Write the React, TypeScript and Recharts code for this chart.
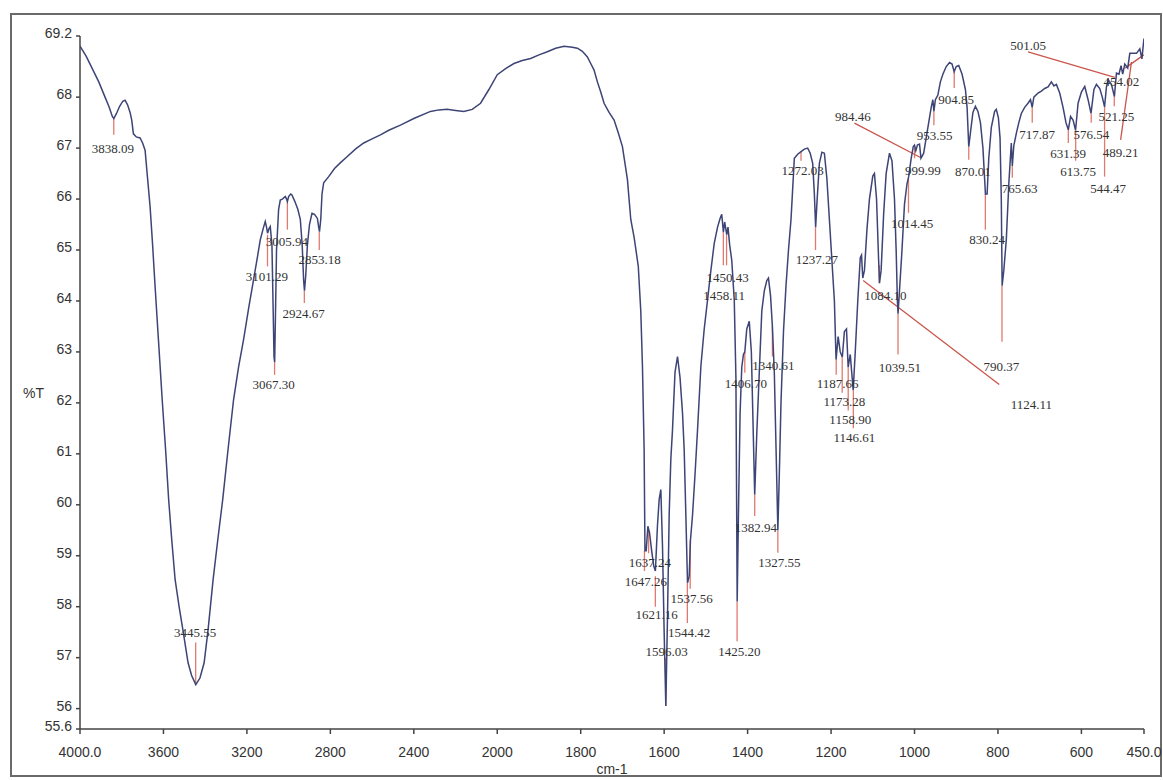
import React from 'react';
import { LineChart, Line, XAxis, YAxis, ReferenceLine, ReferenceDot } from 'recharts';

// FTIR spectrum (cm-1, %T)
const wavenumbers = [
  4000, 3970, 3940, 3910, 3880, 3860, 3845, 3838, 3825, 3810, 3795, 3784, 3772, 3760, 3752, 3744, 3730, 3712,
  3700, 3688, 3676, 3664, 3652, 3640, 3624, 3606, 3590, 3575, 3560, 3544, 3525, 3507, 3482, 3465, 3445, 3425,
  3405, 3386, 3362, 3340, 3316, 3290, 3264, 3240, 3216, 3190, 3168, 3150, 3136, 3120, 3112, 3106, 3101, 3094,
  3088, 3080, 3074, 3070, 3067, 3064, 3058, 3048, 3040, 3030, 3016, 3010, 3006, 3000, 2990, 2984, 2970, 2956,
  2944, 2935, 2928, 2924, 2918, 2910, 2900, 2888, 2876, 2862, 2856, 2852, 2846, 2840, 2832, 2808, 2780, 2750,
  2720, 2680, 2640, 2600, 2560, 2520, 2464, 2400, 2320, 2280, 2240, 2200, 2160, 2120, 2080, 2040, 2000, 1980,
  1960, 1940, 1920, 1900, 1880, 1860, 1840, 1820, 1808, 1796, 1784, 1776, 1768, 1760, 1752, 1744, 1732, 1720,
  1710, 1700, 1688, 1680, 1672, 1662, 1656, 1652, 1648, 1646, 1643, 1639, 1635, 1630, 1625, 1621, 1616, 1612,
  1608, 1604, 1600, 1596, 1592, 1588, 1584, 1580, 1574, 1568, 1562, 1556, 1552, 1548, 1544, 1540, 1537, 1532,
  1526, 1520, 1512, 1504, 1496, 1488, 1480, 1472, 1466, 1462, 1458, 1455, 1450, 1447, 1443, 1438, 1432, 1428,
  1425, 1422, 1418, 1414, 1410, 1406.7, 1402, 1396, 1391, 1387, 1383, 1378, 1372, 1366, 1360, 1354, 1350, 1345,
  1340.6, 1336, 1331, 1327.5, 1324, 1320, 1314, 1308, 1302, 1296, 1292, 1288, 1280, 1272, 1264, 1256, 1250, 1244,
  1240, 1237, 1234, 1228, 1222, 1216, 1210, 1204, 1198, 1192, 1188, 1183, 1178, 1173, 1168, 1163, 1159, 1154,
  1147, 1142, 1136, 1130, 1127, 1124, 1120, 1114, 1108, 1100, 1096, 1091, 1086, 1084, 1080, 1074, 1068, 1060,
  1054, 1048, 1044, 1041, 1039.5, 1036, 1030, 1024, 1018, 1014, 1008, 1003, 1000, 997, 993, 988, 984.5, 978,
  972, 966, 960, 956, 953.5, 950, 944, 938, 932, 924, 916, 910, 905, 900, 894, 886, 878, 874, 870, 866, 860, 854,
  848, 842, 836, 830, 826, 822, 816, 808, 804, 799, 795, 792, 790, 786, 780, 774, 768, 765.6, 762, 756, 750, 744,
  736, 728, 722, 718, 714, 704, 696, 688, 680, 672, 666, 660, 652, 644, 637, 631.4, 626, 620, 614, 608, 600, 592,
  584, 577, 570, 564, 556, 550, 544.5, 540, 536, 528, 521, 516, 510, 505, 501, 496, 489, 484, 468, 460, 455, 452,
  450,
];

const transmittance = [
  69.0, 68.8, 68.55, 68.3, 68.0, 67.8, 67.62, 67.58, 67.68, 67.82, 67.92, 67.94, 67.85, 67.7, 67.55, 67.28, 67.22, 67.2,
  67.1, 66.96, 66.4, 65.85, 65.1, 64.28, 63.24, 62.06, 61.1, 60.1, 59.3, 58.53, 58.0, 57.55, 56.9, 56.65, 56.47, 56.6,
  56.9, 57.55, 58.53, 59.3, 60.1, 61.1, 62.06, 62.7, 63.24, 63.9, 64.42, 64.85, 65.2, 65.45, 65.56, 65.45, 65.33, 65.42,
  65.46, 65.1, 63.8, 62.9, 62.8, 63.5, 65.0, 65.8, 65.98, 66.0, 66.05, 66.0, 65.95, 66.05, 66.1, 66.08, 65.95, 65.8,
  65.6, 65.1, 64.4, 64.2, 64.5, 65.1, 65.5, 65.72, 65.7, 65.62, 65.45, 65.36, 65.6, 66.1, 66.32, 66.44, 66.6, 66.72,
  66.83, 66.98, 67.1, 67.18, 67.26, 67.35, 67.45, 67.58, 67.72, 67.75, 67.76, 67.74, 67.72, 67.76, 67.88, 68.15, 68.44, 68.56,
  68.66, 68.72, 68.76, 68.83, 68.89, 68.96, 69.0, 68.98, 68.96, 68.9, 68.79, 68.66, 68.53, 68.3, 68.1, 67.88, 67.7, 67.55,
  67.3, 67.03, 66.38, 65.6, 65.25, 64.68, 63.8, 62.72, 61.08, 59.1, 59.1, 59.58, 59.45, 59.1, 58.8, 58.7, 59.6, 60.1,
  60.3, 59.2, 57.5, 56.05, 57.8, 59.8, 60.9, 61.47, 62.6, 62.91, 62.5, 61.8, 61.08, 59.8, 58.47, 58.6, 59.3, 59.8,
  60.6, 61.47, 62.72, 63.45, 64.02, 64.6, 65.13, 65.45, 65.62, 65.7, 65.35, 65.55, 65.3, 65.45, 65.1, 64.8, 64.02, 62.5,
  58.1, 59.8, 61.8, 62.7, 62.95, 63.0, 63.45, 63.6, 63.0, 61.6, 60.2, 61.4, 62.6, 63.8, 64.2, 64.4, 64.45, 64.1,
  63.5, 62.6, 60.8, 59.5, 60.6, 62.0, 63.4, 64.3, 65.0, 65.6, 66.2, 66.8, 66.88, 66.93, 66.98, 67.0, 66.9, 66.7,
  66.1, 65.45, 65.9, 66.7, 66.92, 66.9, 66.4, 65.6, 64.8, 64.0, 62.85, 63.3, 63.0, 62.9, 63.4, 63.45, 62.7, 62.95,
  62.25, 63.0, 64.0, 64.85, 64.9, 64.45, 64.6, 65.4, 66.0, 66.45, 66.5, 66.0, 64.8, 64.35, 64.6, 65.7, 66.5, 66.9,
  66.75, 66.0, 65.0, 64.0, 63.75, 64.2, 65.0, 65.9, 66.3, 66.44, 66.8, 67.03, 67.06, 66.95, 67.06, 67.08, 66.8, 66.9,
  67.2, 67.5, 67.8, 67.95, 67.72, 67.95, 68.04, 68.3, 68.45, 68.6, 68.68, 68.65, 68.5, 68.6, 68.62, 68.45, 68.15, 67.8,
  67.03, 67.3, 67.7, 67.82, 67.72, 67.5, 67.0, 66.1, 66.1, 66.8, 67.4, 67.72, 67.76, 67.6, 67.2, 66.0, 64.3, 64.6,
  65.2, 66.3, 67.1, 66.65, 67.05, 67.29, 67.5, 67.68, 67.8, 67.88, 67.95, 67.8, 68.0, 68.08, 68.12, 68.17, 68.2, 68.3,
  68.22, 68.25, 68.08, 67.8, 67.5, 67.36, 67.62, 67.55, 67.35, 67.88, 68.1, 68.21, 67.95, 67.68, 68.15, 68.25, 68.17, 68.0,
  67.81, 68.2, 68.34, 68.25, 68.01, 68.47, 68.45, 68.62, 68.45, 68.65, 68.57, 68.86, 68.86, 68.95, 68.75, 69.0, 69.15,
];

const xTickValues = [4000, 3600, 3200, 2800, 2400, 2000, 1800, 1600, 1400, 1200, 1000, 800, 600, 450];
const xTickLabels = ['4000.0', '3600', '3200', '2800', '2400', '2000', '1800', '1600', '1400', '1200', '1000', '800', '600', '450.0'];
const yTicks = [55.6, 56, 57, 58, 59, 60, 61, 62, 63, 64, 65, 66, 67, 68, 69.2];

// peak labels: marker line [wn1, T1, wn2, T2] and text anchor [wn, T]
const peaks = [
  { text: '3838.09', line: [3838.09, 67.58, 3838.09, 67.26], at: [3842, 67.0] },
  { text: '3445.55', line: [3445.55, 56.5, 3445.55, 57.3], at: [3448, 57.5] },
  { text: '3101.29', line: [3101.29, 65.3, 3101.29, 64.68], at: [3104, 64.48] },
  { text: '3067.30', line: [3067.3, 62.8, 3067.3, 62.55], at: [3072, 62.37] },
  { text: '3005.94', line: [3005.94, 65.95, 3005.94, 65.4], at: [3008, 65.17] },
  { text: '2924.67', line: [2924.67, 64.2, 2924.67, 63.96], at: [2928, 63.76] },
  { text: '2853.18', line: [2853.18, 65.36, 2853.18, 65.0], at: [2851, 64.82] },
  { text: '1647.26', line: [1647.26, 59.1, 1647.26, 58.7], at: [1644, 58.5] },
  { text: '1637.24', line: [1637.24, 59.5, 1637.24, 59.05], at: [1634, 58.86] },
  { text: '1621.16', line: [1621.16, 58.6, 1621.16, 58.0], at: [1618, 57.84] },
  { text: '1596.03', line: [1596.03, 56.05, 1596.03, 57.0], at: [1594, 57.13] },
  { text: '1544.42', line: [1544.42, 58.47, 1544.42, 57.68], at: [1540, 57.49] },
  { text: '1537.56', line: [1537.56, 59.3, 1537.56, 58.35], at: [1534, 58.17] },
  { text: '1458.11', line: [1458.11, 65.35, 1458.11, 64.7], at: [1456, 64.1] },
  { text: '1450.43', line: [1450.43, 65.3, 1450.43, 64.7], at: [1448, 64.47] },
  { text: '1425.20', line: [1425.2, 58.1, 1425.2, 57.32], at: [1420, 57.13] },
  { text: '1406.70', line: [1406.7, 63.0, 1406.7, 62.59], at: [1404, 62.38] },
  { text: '1382.94', line: [1382.94, 60.2, 1382.94, 59.78], at: [1380, 59.56] },
  { text: '1340.61', line: [1340.61, 63.5, 1340.61, 62.91], at: [1338, 62.73] },
  { text: '1327.55', line: [1327.55, 59.5, 1327.55, 59.06], at: [1324, 58.86] },
  { text: '1272.03', line: [1272.03, 66.93, 1272.03, 66.75], at: [1268, 66.56] },
  { text: '1237.27', line: [1237.27, 65.45, 1237.27, 65.0], at: [1234, 64.82] },
  { text: '1187.66', line: [1187.66, 62.85, 1187.66, 62.55], at: [1184, 62.38] },
  { text: '1173.28', line: [1173.28, 62.9, 1173.28, 62.2], at: [1168, 62.03] },
  { text: '1158.90', line: [1158.9, 62.7, 1158.9, 61.85], at: [1154, 61.67] },
  { text: '1146.61', line: [1146.61, 62.25, 1146.61, 61.5], at: [1144, 61.32] },
  { text: '1124.11', line: [1123, 64.4, 797, 62.36], at: [720, 61.98] },
  { text: '1084.10', line: [1084.1, 64.7, 1084.1, 64.35], at: [1070, 64.1] },
  { text: '1039.51', line: [1039.51, 63.75, 1039.51, 62.95], at: [1035, 62.69] },
  { text: '1014.45', line: [1014.45, 66.4, 1014.45, 65.73], at: [1006, 65.53] },
  { text: '999.99', line: [999.99, 67.0, 999.99, 66.8], at: [980, 66.57] },
  { text: '984.46', line: [1144, 67.49, 984.46, 66.81], at: [1148, 67.62] },
  { text: '953.55', line: [953.55, 67.72, 953.55, 67.45], at: [952, 67.24] },
  { text: '904.85', line: [904.85, 68.5, 904.85, 68.18], at: [900, 67.96] },
  { text: '870.01', line: [870.01, 67.03, 870.01, 66.77], at: [860, 66.54] },
  { text: '830.24', line: [830.24, 66.1, 830.24, 65.4], at: [826, 65.2] },
  { text: '790.37', line: [790.37, 64.3, 790.37, 63.2], at: [792, 62.71] },
  { text: '765.63', line: [765.63, 66.65, 765.63, 66.42], at: [748, 66.21] },
  { text: '717.87', line: [717.87, 67.8, 717.87, 67.5], at: [706, 67.26] },
  { text: '631.39', line: [631.39, 67.36, 631.39, 67.1], at: [632, 66.9] },
  { text: '613.75', line: [613.75, 67.35, 613.75, 66.75], at: [608, 66.54] },
  { text: '576.54', line: [576.54, 67.68, 576.54, 67.5], at: [576, 67.26] },
  { text: '544.47', line: [544.47, 67.81, 544.47, 66.44], at: [536, 66.21] },
  { text: '521.25', line: [521.25, 68.01, 521.25, 67.82], at: [516, 67.62] },
  { text: '501.05', line: [728, 68.89, 520, 68.39], at: [728, 69.02] },
  { text: '489.21', line: [506, 67.16, 480, 68.69], at: [506, 66.91] },
  { text: '454.02', line: [450.5, 68.83, 495, 68.57], at: [504, 68.3] },
];

// the x axis changes scale at 2000 cm-1: 400 cm-1 per division above, 200 below
const toAxis = (wn: number) => (wn >= 2000 ? (4000 - wn) / 400 : 5 + (2000 - wn) / 200);

const spectrum = wavenumbers.map((wn, i) => ({ u: toAxis(wn), t: transmittance[i] }));
const xTicks = xTickValues.map(toAxis);

const axisFont = { fontSize: 14, fill: '#333', fontFamily: 'Liberation Sans, Arial, sans-serif' };

export default function App() {
  return (
    <div style={{ position: 'absolute', left: 0, top: 0, width: 1163, height: 780, background: '#fff' }}>
      <div
        style={{
          position: 'absolute',
          left: 10,
          top: 13,
          width: 1152,
          height: 764,
          border: '2px solid #6a6a6a',
          boxSizing: 'border-box',
        }}
      />
      <div style={{ position: 'absolute', left: 0, top: 0 }}>
        <LineChart width={1163} height={780} data={spectrum} margin={{ top: 36, right: 19, bottom: 1, left: 8 }}>
          <XAxis
            dataKey="u"
            type="number"
            domain={[0, 12.75]}
            ticks={xTicks}
            interval={0}
            allowDataOverflow
            tickFormatter={(v: number) => xTickLabels[xTicks.findIndex((t) => Math.abs(t - v) < 1e-6)] ?? ''}
            height={50}
            tickSize={5}
            tickMargin={13}
            tick={axisFont}
            stroke="#444"
            strokeWidth={1.5}
            label={{ value: 'cm-1', position: 'insideBottom', offset: 5, ...axisFont }}
          />
          <YAxis
            type="number"
            domain={[55.6, 69.2]}
            ticks={yTicks}
            interval={0}
            allowDataOverflow
            width={72}
            tickSize={4}
            tickMargin={4}
            tick={{ ...axisFont, dy: -3 }}
            stroke="#444"
            strokeWidth={1.5}
            label={{ value: '%T', position: 'insideLeft', offset: 15, dy: 11, ...axisFont }}
          />
          {peaks.map((p) => (
            <ReferenceLine
              key={'l' + p.text}
              segment={[
                { x: toAxis(p.line[0]), y: p.line[1] },
                { x: toAxis(p.line[2]), y: p.line[3] },
              ]}
              stroke={p.line[0] === p.line[2] ? '#e07a6e' : '#c9564c'}
              strokeWidth={1.3}
            />
          ))}
          <Line
            type="linear"
            dataKey="t"
            stroke="#3d4476"
            strokeWidth={1.5}
            dot={false}
            isAnimationActive={false}
          />
          {peaks.map((p) => (
            <ReferenceDot
              key={'t' + p.text}
              x={toAxis(p.at[0])}
              y={p.at[1]}
              r={0}
              fill="none"
              stroke="none"
              label={{
                value: p.text,
                position: 'center',
                fontSize: 13,
                fill: '#333',
                fontFamily: 'Liberation Serif, Times New Roman, serif',
              }}
            />
          ))}
        </LineChart>
      </div>
    </div>
  );
}
